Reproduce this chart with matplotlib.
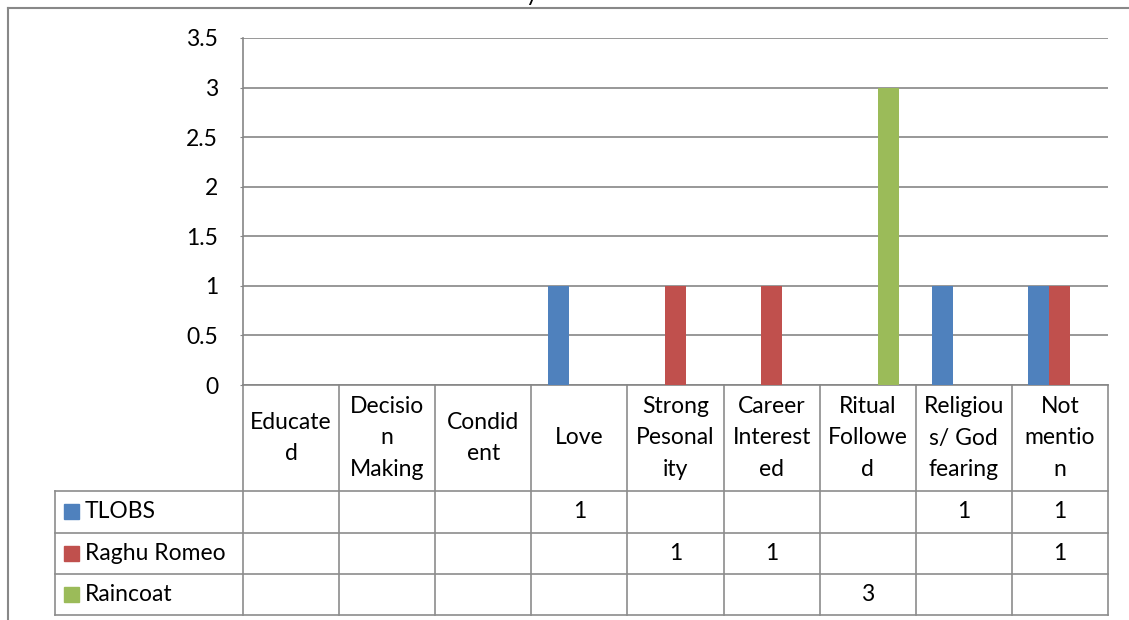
import matplotlib.pyplot as plt
import matplotlib.transforms as mtransforms
from matplotlib.lines import Line2D
from matplotlib.patches import Rectangle
import numpy as np

plt.rcParams["font.family"] = ["Lato", "DejaVu Sans"]

categories = ["Educate\nd", "Decisio\nn\nMaking", "Condid\nent", "Love",
              "Strong\nPesonal\nity", "Career\nInterest\ned", "Ritual\nFollowe\nd",
              "Religiou\ns/ God\nfearing", "Not\nmentio\nn"]
series_names = ["TLOBS", "Raghu Romeo", "Raincoat"]
tlobs = [0, 0, 0, 1, 0, 0, 0, 1, 1]
raghu_romeo = [0, 0, 0, 0, 1, 1, 0, 0, 1]
raincoat = [0, 0, 0, 0, 0, 0, 3, 0, 0]
yticks = [0, 0.5, 1, 1.5, 2, 2.5, 3, 3.5]

colors = ["#4F81BD", "#C0504D", "#9BBB59"]
grid_c = "#868686"
W, H = 1129, 620
fs = 16.5

fig = plt.figure(figsize=(W / 100, H / 100), dpi=100)
ax = fig.add_axes([243 / W, (H - 385) / H, 865 / W, 347 / H])

x = np.arange(len(categories))
bw = 0.219
for i, vals in enumerate([tlobs, raghu_romeo, raincoat]):
    ax.bar(x + (i - 1) * bw, vals, width=bw, color=colors[i], zorder=3)

ax.set_xlim(-0.5, len(categories) - 0.5)
ax.set_ylim(0, 3.5)
ax.set_yticks(yticks)
ax.set_yticklabels([f"{t:g}" for t in yticks], fontsize=fs)
ax.set_xticks([])
ax.yaxis.grid(True, color=grid_c, lw=1.2)
ax.set_axisbelow(True)
for s in ["top", "right"]:
    ax.spines[s].set_visible(False)
for s in ["left", "bottom"]:
    ax.spines[s].set_color(grid_c)
    ax.spines[s].set_linewidth(1.2)
ax.tick_params(axis="y", length=2, color=grid_c, pad=16)


# data table below the plot: x in data units, y in axes fraction
def ay(py):
    return (385 - py) / 347


trans = mtransforms.blended_transform_factory(ax.transData, ax.transAxes)
line_kw = dict(color="#8c8c8c", lw=1.2, transform=trans, clip_on=False)
px_per_cat = 865 / len(categories)
leg_left = -0.5 - (243 - 55) / px_per_cat
x_right = len(categories) - 0.5
row_edges = [491, 532.5, 574, 615]

for b in np.arange(-0.5, len(categories), 1.0):
    ax.add_line(Line2D([b, b], [ay(385), ay(row_edges[-1])], **line_kw))
ax.add_line(Line2D([leg_left, leg_left], [ay(row_edges[0]), ay(row_edges[-1])], **line_kw))
for r in row_edges:
    ax.add_line(Line2D([leg_left, x_right], [ay(r), ay(r)], **line_kw))

for i, lab in enumerate(categories):
    ax.text(i, ay((385 + row_edges[0]) / 2), lab, transform=trans, ha="center",
            va="center", fontsize=fs, linespacing=1.62, clip_on=False)

sq = 15 / px_per_cat
for r, (name, vals) in enumerate(zip(series_names, [tlobs, raghu_romeo, raincoat])):
    yc = ay((row_edges[r] + row_edges[r + 1]) / 2)
    ax.add_patch(Rectangle((-0.5 - (243 - 64) / px_per_cat, yc - 7.5 / 347), sq, 15 / 347,
                           color=colors[r], transform=trans, clip_on=False))
    ax.text(-0.5 - (243 - 85) / px_per_cat, yc, name, transform=trans, ha="left",
            va="center", fontsize=fs, clip_on=False)
    for i, v in enumerate(vals):
        if v:
            ax.text(i, yc, f"{v:g}", transform=trans, ha="center", va="center",
                    fontsize=fs, clip_on=False)

# chart frame and the clipped title
fig.add_artist(Line2D([8 / W, 1], [1 - 8 / H, 1 - 8 / H], color="#888888", lw=1.5))
fig.add_artist(Line2D([8 / W, 8 / W], [0, 1 - 8 / H], color="#888888", lw=1.5))
fig.text(532 / W, 1 - 1 / H, "y", ha="center", va="baseline", fontsize=fs)

fig.savefig("out.png", dpi=100)
